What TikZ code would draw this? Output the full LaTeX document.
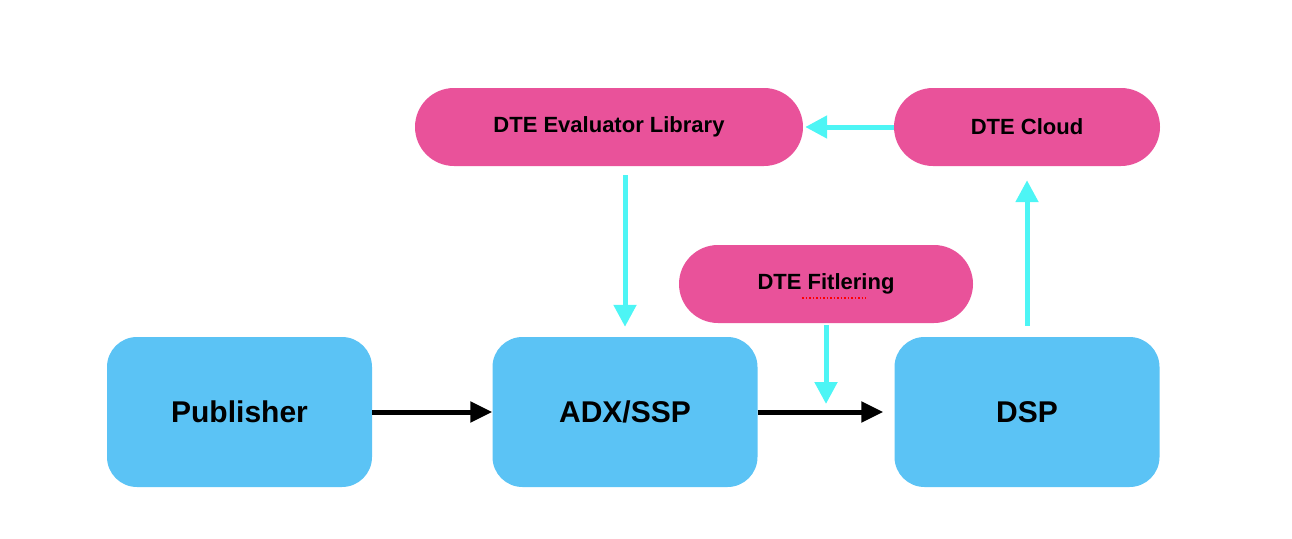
\documentclass[tikz,border=0pt]{standalone}
\usepackage{fontspec}
\setmainfont{Liberation Sans}
\usetikzlibrary{arrows.meta}
\definecolor{bblue}{HTML}{5BC3F5}
\definecolor{pink}{HTML}{E9529A}
\definecolor{cy}{HTML}{4DF5F5}
\begin{document}
\begin{tikzpicture}[x=1pt,y=-1pt,
  big/.style={fill=bblue,rounded corners=30pt,minimum width=265pt,minimum height=150pt,font=\bfseries\fontsize{30}{34}\selectfont,inner sep=0},
  pill/.style={fill=pink,rounded corners=39pt,minimum height=78pt,font=\bfseries\fontsize{22}{26}\selectfont,inner sep=0},
  blk/.style={line width=5pt,black,-{Triangle[length=22pt,width=20pt]}},
  cya/.style={line width=5pt,cy,-{Triangle[length=22pt,width=22pt]}}]
\useasboundingbox (0,0) rectangle (1292,538);
\node[big] (pub) at (239.5,412) {Publisher};
\node[big] (adx) at (625,412) {ADX/SSP};
\node[big] (dsp) at (1027,412) {DSP};
\node[pill,minimum width=388pt] (eval) at (609,127) {DTE Evaluator Library};
\node[pill,minimum width=266pt] (cloud) at (1027,127) {DTE Cloud};
\node[pill,minimum width=294pt] (filt) at (826,284) {DTE Fitlering};
\draw[red,dotted,line width=1.5pt] (802,298) -- (866,298);
\draw[blk] (pub.east) -- (adx.west);
\draw[blk,shorten >=11pt] (adx.east) -- (dsp.west);
\coordinate (m) at (826,404);
\draw[cya,shorten <=2pt] (filt.south) -- (m);
\draw[cya,shorten <=9pt,shorten >=10pt] (eval.south -| adx.north) -- (adx.north);
\draw[cya,shorten <=11pt,shorten >=14pt] (dsp.north) -- (cloud.south);
\draw[cya,shorten >=2pt] (cloud.west) -- (eval.east);
\end{tikzpicture}
\end{document}
